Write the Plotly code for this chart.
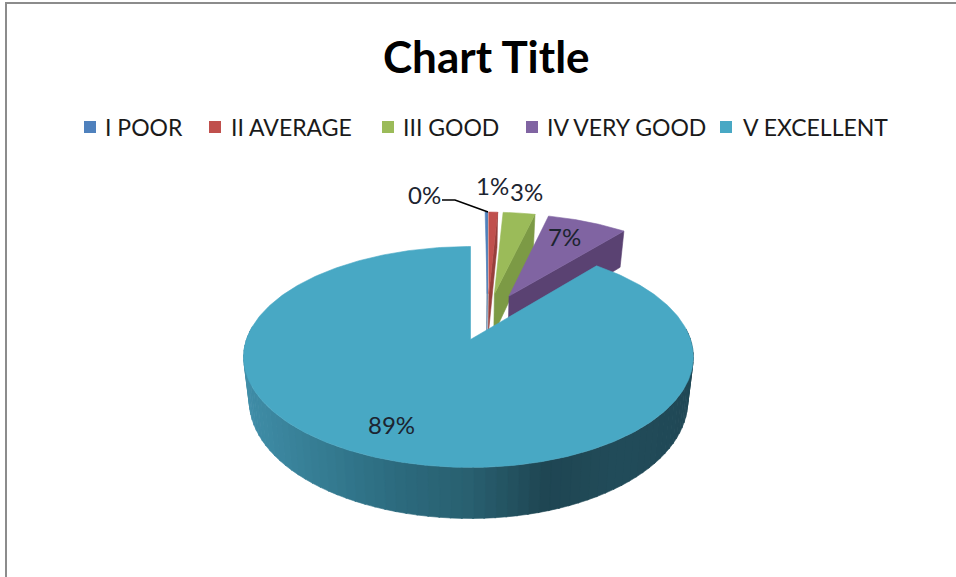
import numpy as np
import plotly.graph_objects as go

categories = ["I POOR", "II AVERAGE", "III GOOD", "IV VERY GOOD", "V EXCELLENT"]
values = [0.2, 0.8, 2.9, 7.2, 88.9]
labels = ["0%", "1%", "3%", "7%", "89%"]
top_colors = ["#4F81BD", "#C0504D", "#9BBB59", "#8064A2", "#48A8C4"]
wall_colors = ["#3D6591", "#973F3C", "#7C9A45", "#5A4272", "#2C6A7D"]
legend_x = [90, 215, 388, 532, 726]
legend_text_x = [105, 231, 403, 547, 743]
label_pos = [(424, 194), (492, 185), (526, 191), (564, 236), (391, 424)]

W, H = 956, 577
CX, CY = 470.5, 339.5          # pixel position of the hub of the largest slice
RX_L, RX_R, RY = 224.0, 220.0, 107.7   # disk radii
K = 0.158                      # perspective
DEPTH = 43.0
EXPLODE = 0.235
BOTTOM_SHRINK = 0.975

total = sum(values)
edges = np.cumsum([0] + values) / total * 2 * np.pi
mids = (edges[:-1] + edges[1:]) / 2
ref_u = EXPLODE * np.sin(mids[-1])
ref_v = EXPLODE * np.cos(mids[-1])


def project(u, v, bottom=False):
    u = np.asarray(u, float) - ref_u
    v = np.asarray(v, float) - ref_v
    w = 1 + K * v
    x = np.where(u < 0, RX_L, RX_R) * u / w
    y = RY * v / w
    if bottom:
        x = x * BOTTOM_SHRINK
        y = y - DEPTH / w
    return CX + x, CY - y


def rim(i, a0=None, a1=None, n=120):
    a0 = edges[i] if a0 is None else a0
    a1 = edges[i + 1] if a1 is None else a1
    t = np.linspace(a0, a1, n)
    hub_u, hub_v = EXPLODE * np.sin(mids[i]), EXPLODE * np.cos(mids[i])
    return hub_u + np.sin(t), hub_v + np.cos(t), hub_u, hub_v


fig = go.Figure()


def poly(x, y, color):
    fig.add_trace(go.Scatter(
        x=list(x) + [x[0]], y=list(y) + [y[0]], mode="lines", fill="toself",
        fillcolor=color, line=dict(color=color, width=0.6),
        hoverinfo="skip", showlegend=False))


# exploded small slices, then the big one on top
for i in range(len(values) - 1):
    u, v, hu, hv = rim(i)
    # wall along the trailing radial edge
    xa, ya = project([hu, u[-1]], [hv, v[-1]])
    xb, yb = project([u[-1], hu], [v[-1], hv], bottom=True)
    poly(np.r_[xa, xb], np.r_[ya, yb], wall_colors[i])
    # top
    xt, yt = project(np.r_[hu, u], np.r_[hv, v])
    poly(xt, yt, top_colors[i])

# side of the big slice, shaded strip by strip
shade_x = [235, 250, 330, 400, 470, 545, 620, 700]
shade_r = [0x44, 0x3F, 0x34, 0x2C, 0x29, 0x1F, 0x22, 0x20]
shade_g = [0x92, 0x8C, 0x7A, 0x6A, 0x60, 0x46, 0x4C, 0x48]
shade_b = [0xAD, 0xA6, 0x90, 0x7D, 0x70, 0x53, 0x5A, 0x56]
last = len(values) - 1
steps = np.arange(np.pi / 2 - 0.1, 3 * np.pi / 2 + 0.12, np.radians(2.5))
for a0, a1 in zip(steps[:-1], steps[1:]):
    u, v, _, _ = rim(last, a0, a1 + 0.005, n=4)
    xa, ya = project(u, v)
    xb, yb = project(u[::-1], v[::-1], bottom=True)
    xm = float(xa.mean())
    col = "rgb(%d,%d,%d)" % (np.interp(xm, shade_x, shade_r),
                             np.interp(xm, shade_x, shade_g),
                             np.interp(xm, shade_x, shade_b))
    poly(np.r_[xa, xb], np.r_[ya, yb], col)

u, v, hu, hv = rim(last, n=360)
xt, yt = project(np.r_[hu, u], np.r_[hv, v])
poly(xt, yt, top_colors[last])

# legend
for name, col, lx, tx in zip(categories, top_colors, legend_x, legend_text_x):
    fig.add_trace(go.Scatter(
        x=[lx], y=[127], mode="markers",
        marker=dict(symbol="square", size=12, color=col),
        hoverinfo="skip", showlegend=False))
    fig.add_annotation(x=tx, y=127, text=name, showarrow=False, xanchor="left",
                       xshift=-2, yanchor="middle",
                       font=dict(family="Lato", size=23, color="#1a1a1a"))

# leader line for the smallest slice
fig.add_trace(go.Scatter(x=[442, 455, 488], y=[200, 200, 212], mode="lines",
                         line=dict(color="black", width=1.6),
                         hoverinfo="skip", showlegend=False))

for lab, (lx, ly) in zip(labels, label_pos):
    fig.add_annotation(x=lx, y=ly, text=lab, showarrow=False,
                       font=dict(family="Lato", size=24, color="#1c2430"))

fig.add_annotation(x=486, y=56, text="<b>Chart Title</b>", showarrow=False,
                   font=dict(family="Lato", size=44, color="black"))

fig.update_layout(
    width=W, height=H, autosize=False,
    margin=dict(l=0, r=0, t=0, b=0),
    paper_bgcolor="white", plot_bgcolor="white", showlegend=False,
    xaxis=dict(range=[0, W], visible=False, fixedrange=True),
    yaxis=dict(range=[H, 0], visible=False, fixedrange=True),
    shapes=[
        dict(type="line", x0=5, x1=W, y0=3, y1=3, line=dict(color="#8c8c8c", width=2)),
        dict(type="line", x0=6, x1=6, y0=3, y1=H, line=dict(color="#8c8c8c", width=2)),
    ],
)
fig.write_html("out.html", config=dict(displayModeBar=False),
               post_script="document.body.style.margin='0';document.body.style.overflow='hidden';")
